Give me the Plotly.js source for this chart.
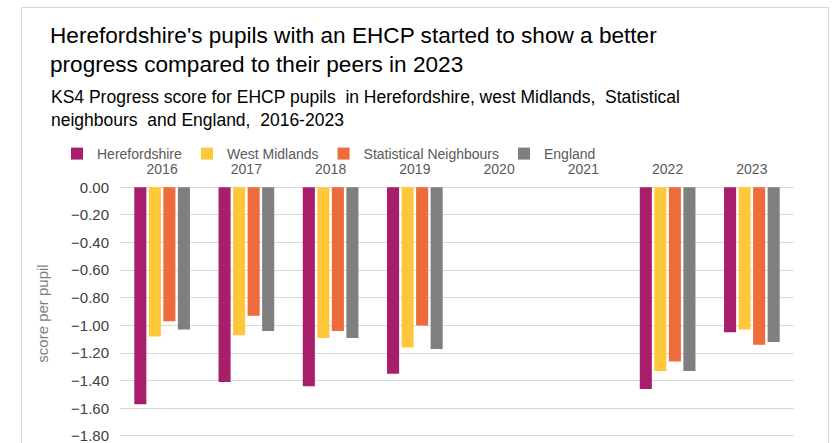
<!DOCTYPE html>
<html>
<head>
<meta charset="utf-8">
<script src="https://cdn.plot.ly/plotly-3.0.1.min.js"></script>
<style>
  html, body { margin: 0; padding: 0; background: #ffffff; }
  #wrap { position: relative; width: 837px; height: 443px; }
  #chart { width: 837px; height: 443px; }
  #frame { position: absolute; left: 21px; top: 7px; width: 808px; height: 450px;
           border: 1px solid #D9D9D9; pointer-events: none; box-sizing: border-box; }
</style>
</head>
<body>
<div id="wrap">
  <div id="chart"></div>
  <div id="frame"></div>
</div>
<script>
const years = ['2016', '2017', '2018', '2019', '2020', '2021', '2022', '2023'];
const herefordshire = [-1.57, -1.41, -1.44, -1.35, null, null, -1.46, -1.05];
const westMidlands = [-1.08, -1.07, -1.09, -1.16, null, null, -1.33, -1.03];
const statNeighbours = [-0.97, -0.93, -1.04, -1.00, null, null, -1.26, -1.14];
const england = [-1.03, -1.04, -1.09, -1.17, null, null, -1.33, -1.12];
const seriesNames = ['Herefordshire', 'West Midlands', 'Statistical Neighbours', 'England'];
const seriesColors = ['#A71F6B', '#FFC83A', '#EE6B3C', '#7F7F7F'];
const yTicks = [0, -0.2, -0.4, -0.6, -0.8, -1.0, -1.2, -1.4, -1.6, -1.8];

const FONT = 'Liberation Sans, Arial, sans-serif';
const seriesData = [herefordshire, westMidlands, statNeighbours, england];

const traces = seriesData.map((vals, i) => ({
  type: 'bar',
  name: seriesNames[i],
  x: years,
  y: vals,
  marker: { color: seriesColors[i] },
  hoverinfo: 'x+y+name'
}));

const plotL = 120, plotR = 794, plotT = 187, plotB = 440;
const W = 837, H = 443;
const pw = plotR - plotL, ph = plotB - plotT;
function px2x(px) { return (px - plotL) / pw; }
function py2y(py) { return (plotB - py) / ph; }

const layout = {
  width: W,
  height: H,
  margin: { l: plotL, r: W - plotR, t: plotT, b: H - plotB, pad: 0 },
  paper_bgcolor: '#ffffff',
  plot_bgcolor: '#ffffff',
  font: { family: FONT, size: 14, color: '#595959' },
  title: {
    text: "Herefordshire's pupils with an EHCP started to show a better<br>progress compared to their peers in 2023",
    font: { family: FONT, size: 22.6, color: '#000000' },
    xref: 'container', x: 50 / W, xanchor: 'left',
    yref: 'container', y: 1 - 43 / H, yanchor: 'top'
  },
  annotations: [{
    text: 'KS4 Progress score for EHCP pupils  in Herefordshire, west Midlands,  Statistical<br>neighbours  and England,  2016-2023',
    xref: 'paper', yref: 'paper',
    x: px2x(49), y: py2y(85), xanchor: 'left', yanchor: 'top',
    align: 'left', showarrow: false,
    font: { family: FONT, size: 17.5, color: '#000000' }
  }],
  showlegend: true,
  legend: {
    orientation: 'h',
    x: px2x(57), xanchor: 'left',
    y: py2y(138), yanchor: 'top',
    font: { family: FONT, size: 14, color: '#595959' },
    itemwidth: 30,
    traceorder: 'normal',
    bgcolor: 'rgba(0,0,0,0)'
  },
  barmode: 'group',
  bargap: 0.31,
  bargroupgap: 0.17,
  xaxis: {
    type: 'category',
    side: 'top',
    showgrid: false,
    showline: false,
    zeroline: false,
    ticks: '',
    tickfont: { family: FONT, size: 14, color: '#595959' },
    ticklabelstandoff: 9
  },
  yaxis: {
    range: [-1.829, 0.0022],
    tickvals: yTicks,
    tickformat: '.2f',
    showgrid: true,
    gridcolor: '#D9D9D9',
    gridwidth: 1,
    zeroline: true,
    zerolinecolor: '#D9D9D9',
    zerolinewidth: 1,
    showline: false,
    ticks: '',
    tickfont: { family: FONT, size: 15, color: '#404040' },
    ticklabelstandoff: 10,
    ticklabeloverflow: 'allow',
    title: {
      text: 'score per pupil',
      font: { family: FONT, size: 15, color: '#7F7F7F' },
      standoff: 18
    }
  }
};

Plotly.newPlot('chart', traces, layout, { displayModeBar: false, staticPlot: true });
</script>
</body>
</html>
